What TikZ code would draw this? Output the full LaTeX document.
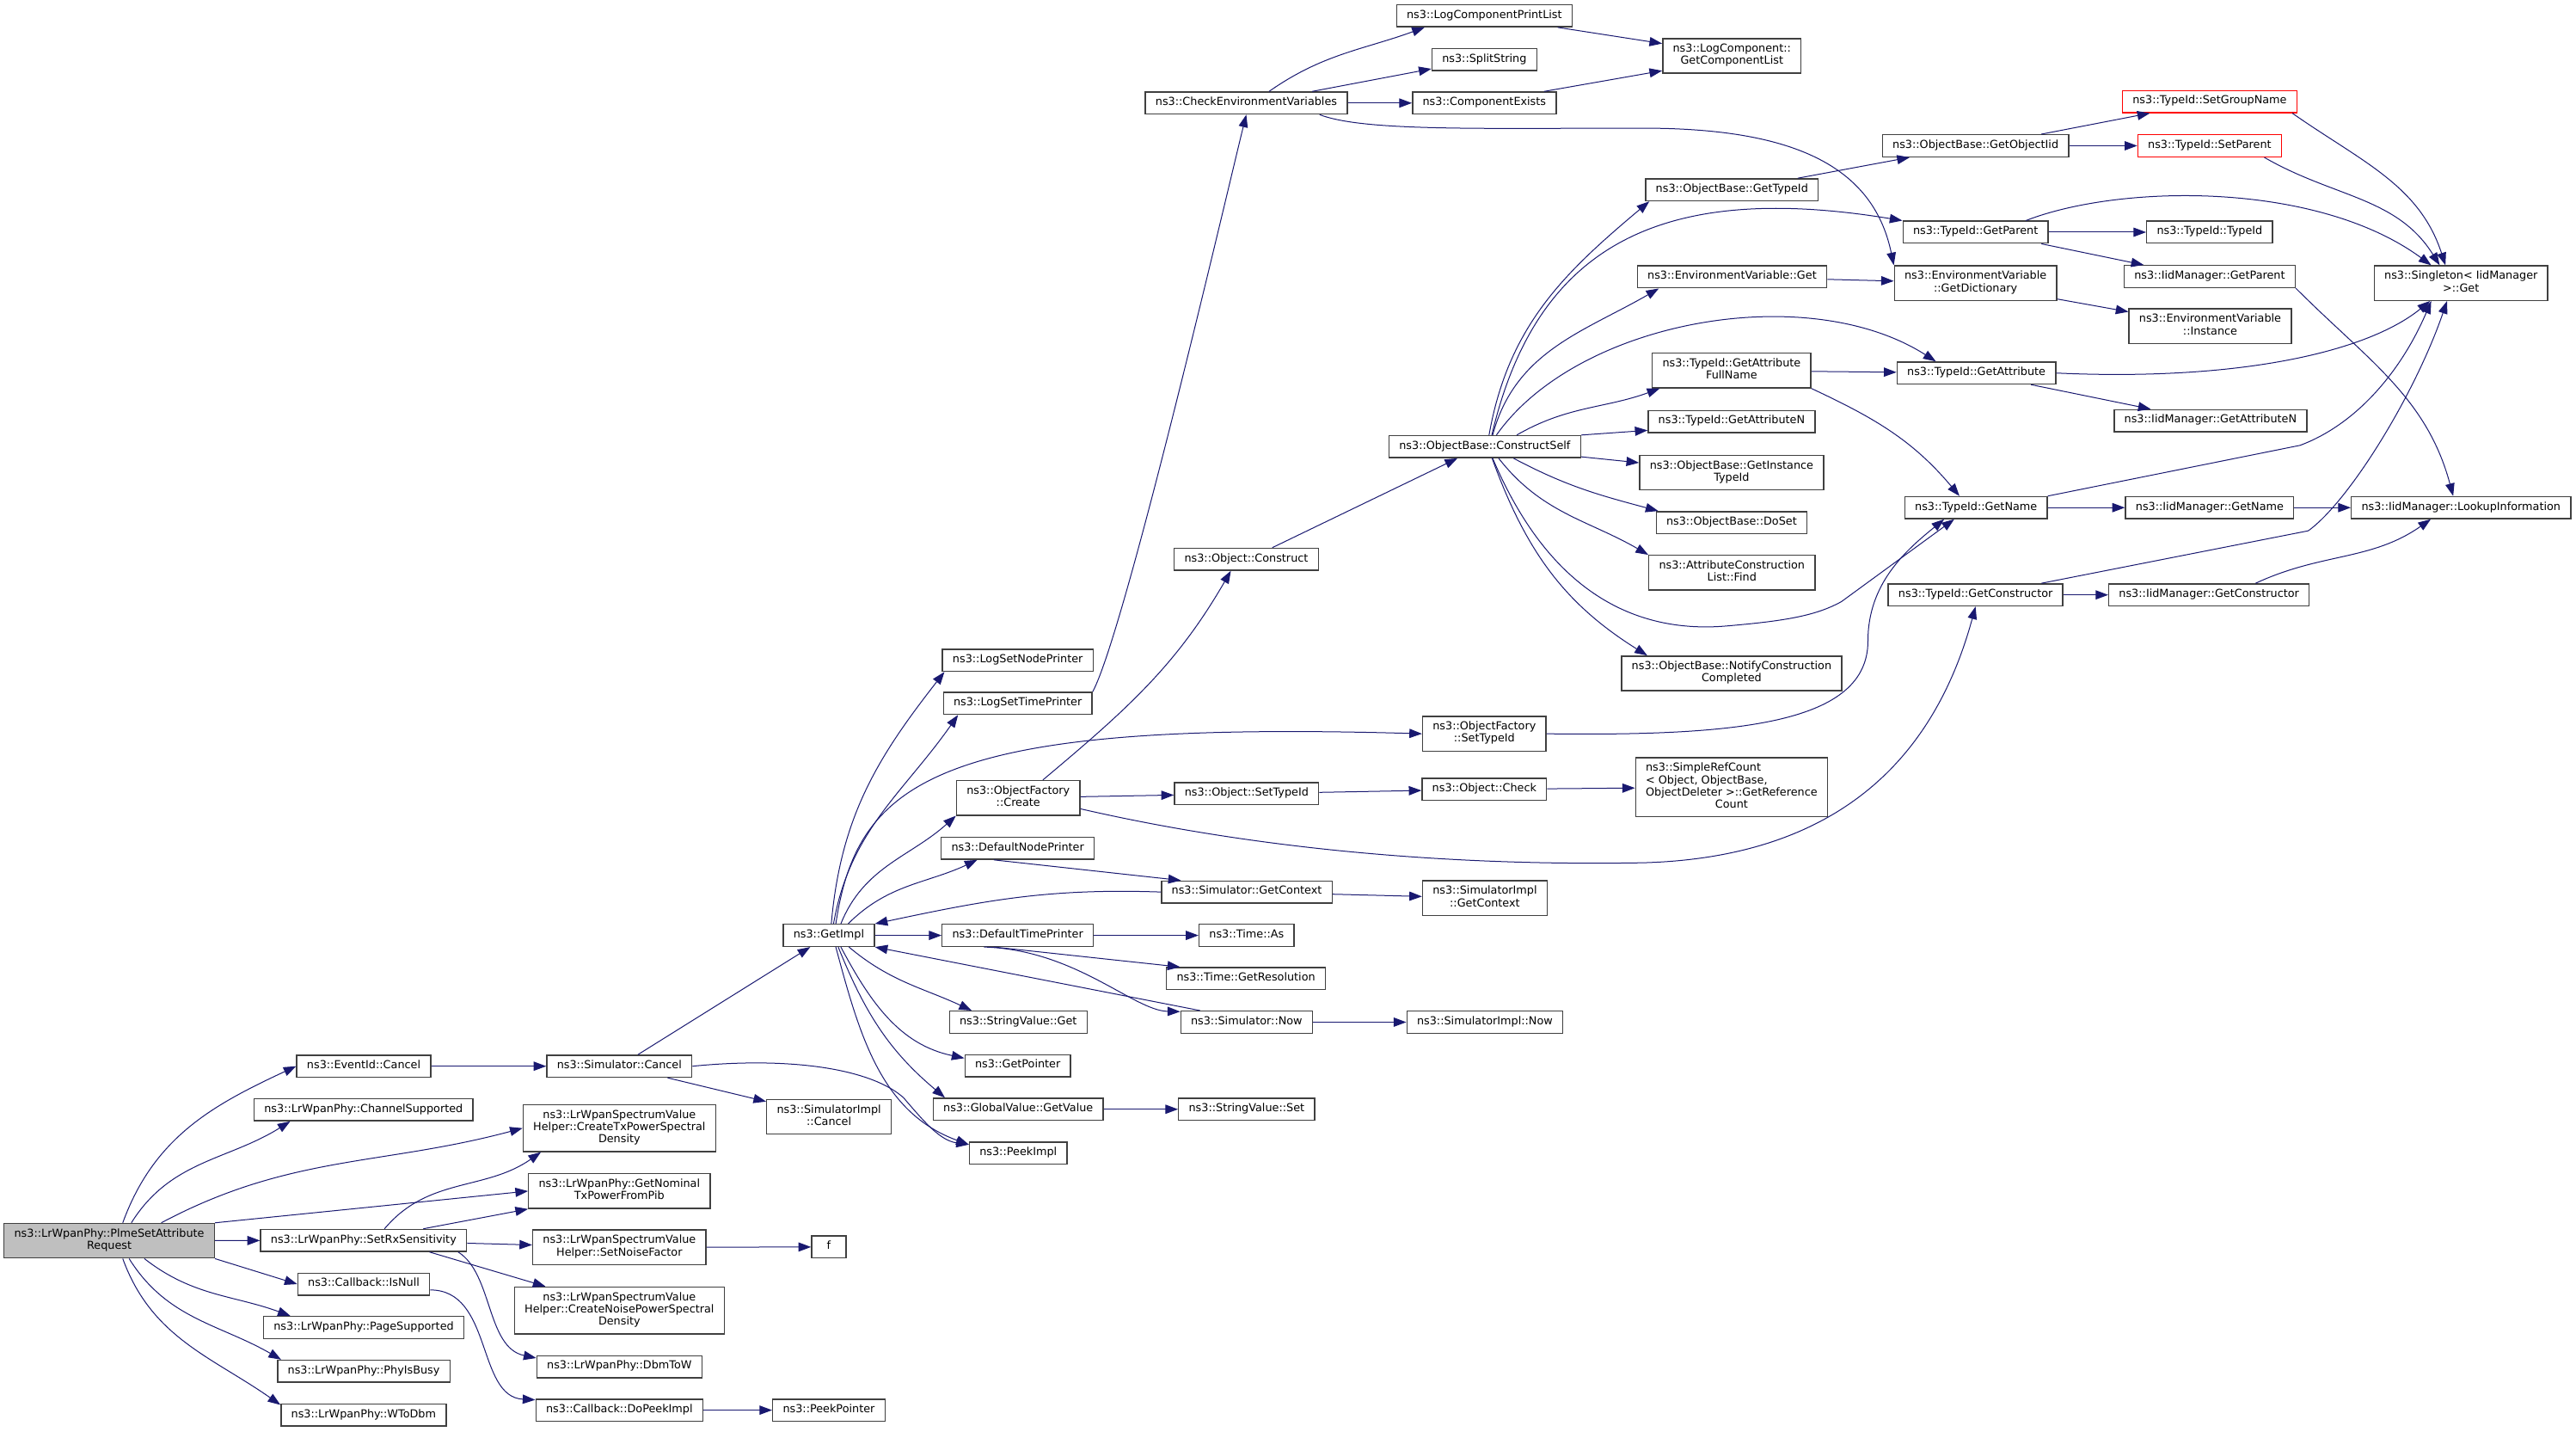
\documentclass[tikz,border=0pt]{standalone}
\usepackage{fontspec}
\setmainfont{DejaVu Sans}
\usepackage{tikz}
\usetikzlibrary{arrows.meta}
\definecolor{callblue}{HTML}{191970}

\begin{document}
\begin{tikzpicture}[x=1.433pt, y=-1.433pt,
    >={Triangle[length=11pt,width=8pt]},
    fn/.style={draw=black!75, line width=1.05pt, fill=white, align=center,
      inner xsep=8.85pt, inner ysep=1pt, minimum height=19.2pt,
      font=\fontsize{9.6}{10.6}\selectfont,
      execute at begin node=\strut, execute at end node=\strut},
    fn2/.style={fn, minimum height=30.2pt},
    fn3/.style={fn, minimum height=40.8pt},
    fn4/.style={fn, minimum height=51.5pt},
    root/.style={fill=black!25},
    cut/.style={draw=red},
    call/.style={->, draw=callblue, line width=0.75pt}]
  \useasboundingbox (0,0) rectangle (1568,870.9);

  % Caller and its direct calls
  \node[fn2, root] (plme) at (66.5,755) {ns3::LrWpanPhy::PlmeSetAttribute\\Request};
  \node[fn] (eventCancel) at (221.4,648.8) {ns3::EventId::Cancel};
  \node[fn] (channelSup) at (221.3,675.3) {ns3::LrWpanPhy::ChannelSupported};
  \node[fn] (setRx) at (221.3,754.8) {ns3::LrWpanPhy::SetRxSensitivity};
  \node[fn] (isNull) at (221.4,781.4) {ns3::Callback::IsNull};
  \node[fn] (pageSup) at (221.4,807.8) {ns3::LrWpanPhy::PageSupported};
  \node[fn] (phyBusy) at (221.4,834.4) {ns3::LrWpanPhy::PhyIsBusy};
  \node[fn] (wToDbm) at (221.3,861.1) {ns3::LrWpanPhy::WToDbm};

  \node[fn] (simCancel) at (377,648.8) {ns3::Simulator::Cancel};
  \node[fn3] (createTx) at (377,686.5) {ns3::LrWpanSpectrumValue\\Helper::CreateTxPowerSpectral\\Density};
  \node[fn2] (getNominal) at (377,724.8) {ns3::LrWpanPhy::GetNominal\\TxPowerFromPib};
  \node[fn2] (setNoise) at (377,759) {ns3::LrWpanSpectrumValue\\Helper::SetNoiseFactor};
  \node[fn3] (createNoise) at (377,797.4) {ns3::LrWpanSpectrumValue\\Helper::CreateNoisePowerSpectral\\Density};
  \node[fn] (dbmToW) at (377,831.7) {ns3::LrWpanPhy::DbmToW};
  \node[fn] (doPeek) at (377,858.1) {ns3::Callback::DoPeekImpl};

  \node[fn] (getImpl) at (504.5,569.2) {ns3::GetImpl};
  \node[fn2] (simImplCancel) at (504.6,679.5) {ns3::SimulatorImpl\\::Cancel};
  \node[fn, minimum width=30pt] (f) at (504.5,758.8) {f};
  \node[fn] (peekPointer) at (504.5,858.1) {ns3::PeekPointer};

  % GetImpl column
  \node[fn] (logSetNode) at (619.5,401.8) {ns3::LogSetNodePrinter};
  \node[fn] (logSetTime) at (619.5,428) {ns3::LogSetTimePrinter};
  \node[fn2] (ofCreate) at (619.8,485.5) {ns3::ObjectFactory\\::Create};
  \node[fn] (defNode) at (619.5,516.2) {ns3::DefaultNodePrinter};
  \node[fn] (defTime) at (619.5,569.2) {ns3::DefaultTimePrinter};
  \node[fn] (strGet) at (619.8,622) {ns3::StringValue::Get};
  \node[fn] (getPointer) at (619.5,648.5) {ns3::GetPointer};
  \node[fn] (gvGetValue) at (619.8,675) {ns3::GlobalValue::GetValue};
  \node[fn] (peekImpl) at (619.8,701.8) {ns3::PeekImpl};

  \node[fn] (checkEnv) at (758.6,62.7) {ns3::CheckEnvironmentVariables};
  \node[fn] (objConstruct) at (758.6,340.3) {ns3::Object::Construct};
  \node[fn] (objSetTypeId) at (758.8,483) {ns3::Object::SetTypeId};
  \node[fn] (simGetContext) at (758.9,542.8) {ns3::Simulator::GetContext};
  \node[fn] (timeAs) at (758.8,569.2) {ns3::Time::As};
  \node[fn] (timeRes) at (758.4,595.5) {ns3::Time::GetResolution};
  \node[fn] (simNow) at (758.8,622) {ns3::Simulator::Now};
  \node[fn] (strSet) at (758.8,675) {ns3::StringValue::Set};

  \node[fn] (logPrintList) at (903.5,9.6) {ns3::LogComponentPrintList};
  \node[fn] (splitString) at (903.5,36.2) {ns3::SplitString};
  \node[fn] (compExists) at (903.5,62.7) {ns3::ComponentExists};
  \node[fn] (constructSelf) at (903.8,271.8) {ns3::ObjectBase::ConstructSelf};
  \node[fn2] (ofSetTypeId) at (903.5,446.5) {ns3::ObjectFactory\\::SetTypeId};
  \node[fn] (objCheck) at (903.5,480.3) {ns3::Object::Check};
  \node[fn2] (simImplGetContext) at (903.8,546.5) {ns3::SimulatorImpl\\::GetContext};
  \node[fn] (simImplNow) at (903.8,622) {ns3::SimulatorImpl::Now};

  % ObjectBase and TypeId helpers
  \node[fn2] (getCompList) at (1054.2,34) {ns3::LogComponent::\\GetComponentList};
  \node[fn] (obGetTypeId) at (1054.2,115.5) {ns3::ObjectBase::GetTypeId};
  \node[fn] (envGet) at (1054.3,168.5) {ns3::EnvironmentVariable::Get};
  \node[fn2] (getAttrFull) at (1054,225.5) {ns3::TypeId::GetAttribute\\FullName};
  \node[fn] (getAttrN) at (1054,256.5) {ns3::TypeId::GetAttributeN};
  \node[fn2] (getInstTypeId) at (1054,287.5) {ns3::ObjectBase::GetInstance\\TypeId};
  \node[fn] (doSet) at (1054,318) {ns3::ObjectBase::DoSet};
  \node[fn2] (acListFind) at (1054.2,348.5) {ns3::AttributeConstruction\\List::Find};
  \node[fn2] (notifyCC) at (1054,409.8) {ns3::ObjectBase::NotifyConstruction\\Completed};
  \node[fn4] (simpleRefCount) at (1054,479) {\begin{tabular}{@{}c@{}}
      \multicolumn{1}{@{}l}{ns3::SimpleRefCount}\\
      \multicolumn{1}{@{}l}{< Object, ObjectBase,}\\
      ObjectDeleter >::GetReference\\
      Count\end{tabular}};

  \node[fn] (getObjectIid) at (1202.5,88.7) {ns3::ObjectBase::GetObjectIid};
  \node[fn] (tidGetParent) at (1202.5,141.3) {ns3::TypeId::GetParent};
  \node[fn2] (getDict) at (1202.5,172.3) {ns3::EnvironmentVariable\\::GetDictionary};
  \node[fn] (tidGetAttr) at (1203,227) {ns3::TypeId::GetAttribute};
  \node[fn] (tidGetName) at (1202.8,308.9) {ns3::TypeId::GetName};
  \node[fn] (tidGetCtor) at (1202.5,362) {ns3::TypeId::GetConstructor};

  \node[fn, cut] (setGroupName) at (1345,61.8) {ns3::TypeId::SetGroupName};
  \node[fn, cut] (setParent) at (1345,88.7) {ns3::TypeId::SetParent};
  \node[fn] (tidTypeId) at (1345,141.3) {ns3::TypeId::TypeId};
  \node[fn] (iidGetParent) at (1345,168.3) {ns3::IidManager::GetParent};
  \node[fn2] (envInstance) at (1345.3,198.5) {ns3::EnvironmentVariable\\::Instance};
  \node[fn] (iidGetAttrN) at (1345.5,256) {ns3::IidManager::GetAttributeN};
  \node[fn] (iidGetName) at (1345,308.9) {ns3::IidManager::GetName};
  \node[fn] (iidGetCtor) at (1344.6,362) {ns3::IidManager::GetConstructor};

  \node[fn2] (singletonGet) at (1498,172.3) {ns3::Singleton< IidManager\\ >::Get};
  \node[fn] (lookupInfo) at (1498,308.9) {ns3::IidManager::LookupInformation};

  % Calls of the caller
  \draw[call] (plme.53) to[out=70,in=205] (eventCancel.west);
  \draw[call] (plme.39) to[out=58,in=212] (channelSup.-171);
  \draw[call] (plme.19) to[out=28,in=195] (createTx.west);
  \draw[call] (plme.north east) -- (getNominal.west);
  \draw[call] (plme) -- (setRx);
  \draw[call] (plme.south east) -- (isNull.west);
  \draw[call] (plme.-27) to[out=-38,in=160] (pageSup.171);
  \draw[call] (plme.-42) to[out=-58,in=150] (phyBusy.172);
  \draw[call] (plme.-53) to[out=-70,in=145] (wToDbm.173);

  \draw[call] (eventCancel) -- (simCancel);
  \draw[call] (simCancel) -- (getImpl);
  \draw[call] (simCancel) -- (simImplCancel);
  \draw[call] (simCancel.east) .. controls (480,643) and (530,650) .. (550,668)
    .. controls (562,682) and (572,694) .. (peekImpl.170);
  \draw[call] (setRx.29) to[out=50,in=215] (createTx.-163);
  \draw[call] (setRx.11) -- (getNominal.south west);
  \draw[call] (setRx) -- (setNoise);
  \draw[call] (setRx.-10) -- (createNoise.162);
  \draw[call] (setRx.-7) .. controls (300,775) and (296,820) .. (dbmToW.174);
  \draw[call] (setNoise) -- (f);
  \draw[call] (isNull.-5) .. controls (300,785) and (290,850) .. (doPeek.173);
  \draw[call] (doPeek) -- (peekPointer);

  % Calls of GetImpl
  \draw[call] (getImpl.78) to[out=85,in=232] (logSetNode.-171);
  \draw[call] (getImpl.68) to[out=80,in=235] (logSetTime.-169);
  \draw[call] (getImpl.59) .. controls (522,475) and (570,438) .. (ofSetTypeId.west);
  \draw[call] (getImpl.44) to[out=68,in=222] (ofCreate.south west);
  \draw[call] (getImpl.31) to[out=45,in=205] (defNode.-164);
  \draw[call] (getImpl) -- (defTime);
  \draw[call] (getImpl.-30) to[out=-40,in=155] (strGet.166);
  \draw[call] (getImpl.-44) to[out=-62,in=168] (getPointer.172);
  \draw[call] (getImpl.-51) to[out=-68,in=140] (gvGetValue.171);
  \draw[call] (getImpl.-59) to[out=-75,in=160] (peekImpl.170);

  \draw[call] (logSetTime.north east) to[out=62,in=-104,looseness=0.3] (checkEnv.south);
  \draw[call] (ofCreate.36) to[out=40,in=-120] (objConstruct.-143);
  \draw[call] (ofCreate) -- (objSetTypeId);
  \draw[call] (ofCreate.-10) .. controls (770,518) and (890,527) .. (1000,525)
    .. controls (1110,522) and (1175,470) .. (tidGetCtor.south);
  \draw[call] (defNode.-154) -- (simGetContext.170);
  \draw[call] (simGetContext.west) to[out=178,in=12] (getImpl.north east);
  \draw[call] (simGetContext) -- (simImplGetContext);
  \draw[call] (defTime) -- (timeAs);
  \draw[call] (defTime.-154) -- (timeRes.170);
  \draw[call] (defTime.-161) .. controls (655,578) and (690,615) .. (simNow.171);
  \draw[call] (simNow.166) -- (getImpl.south east);
  \draw[call] (simNow) -- (simImplNow);
  \draw[call] (gvGetValue) -- (strSet);
  \draw[call] (objSetTypeId) -- (objCheck);
  \draw[call] (objCheck) -- (simpleRefCount);
  \draw[call] (ofSetTypeId.east) .. controls (1060,448) and (1137,440) .. (1137,390)
    .. controls (1137,355) and (1160,335) .. (tidGetName.-160);
  \draw[call] (objConstruct.24) -- (constructSelf.-157);

  % CheckEnvironmentVariables
  \draw[call] (checkEnv.27) to[out=35,in=200] (logPrintList.-169);
  \draw[call] (checkEnv.10) -- (splitString.-170);
  \draw[call] (checkEnv) -- (compExists);
  \draw[call] (checkEnv.-9) .. controls (830,80) and (900,78) .. (1000,78)
    .. controls (1090,78) and (1140,100) .. (getDict.north west);
  \draw[call] (logPrintList.-9) -- (getCompList.170);
  \draw[call] (compExists.11) -- (getCompList.-168);

  % ConstructSelf
  \draw[call] (constructSelf.70) to[out=80,in=220] (obGetTypeId.-172);
  \draw[call] (constructSelf.59) .. controls (935,150) and (1010,110) .. (tidGetParent.north west);
  \draw[call] (constructSelf.56) to[out=75,in=210] (envGet.-171);
  \draw[call] (constructSelf.45) .. controls (960,195) and (1100,170) .. (tidGetAttr.164);
  \draw[call] (constructSelf.20) to[out=30,in=200] (getAttrFull.-166);
  \draw[call] (constructSelf.north east) -- (getAttrN.-174);
  \draw[call] (constructSelf.-6) -- (getInstTypeId.174);
  \draw[call] (constructSelf.-22) to[out=-28,in=165] (doSet.171);
  \draw[call] (constructSelf.-40) to[out=-52,in=150] (acListFind.north west);
  \draw[call] (constructSelf.-58) to[out=-70,in=148] (notifyCC.168);
  \draw[call] (constructSelf.-56) .. controls (945,365) and (1000,385) .. (1050,381)
    .. controls (1085,378) and (1105,375) .. (1121,366) -- (tidGetName.-152);

  % TypeId and IidManager
  \draw[call] (obGetTypeId.10) -- (getObjectIid.-170);
  \draw[call] (getObjectIid.10) -- (setGroupName.-169);
  \draw[call] (getObjectIid) -- (setParent);
  \draw[call] (envGet) -- (getDict);
  \draw[call] (getAttrFull) -- (tidGetAttr);
  \draw[call] (getAttrFull.south east) to[out=-25,in=130] (tidGetName.145);
  \draw[call] (tidGetParent) -- (tidTypeId);
  \draw[call] (tidGetParent.-10) -- (iidGetParent.170);
  \draw[call] (tidGetParent.13) .. controls (1290,112) and (1410,110) .. (singletonGet.149);
  \draw[call] (getDict.-11) -- (envInstance.170);
  \draw[call] (tidGetAttr.east) .. controls (1360,232) and (1440,215) .. (singletonGet.-150);
  \draw[call] (tidGetAttr.-12) -- (iidGetAttrN.169);
  \draw[call] (tidGetName) -- (iidGetName);
  \draw[call] (tidGetName.north east) -- (1400,271) .. controls (1435,258) and (1462,225) .. (singletonGet.-149);
  \draw[call] (tidGetCtor) -- (iidGetCtor);
  \draw[call] (tidGetCtor.10) -- (1405,323) .. controls (1430,305) and (1470,240) .. (singletonGet.-128);
  \draw[call] (setGroupName.-8) to[out=-35,in=108] (singletonGet.131);
  \draw[call] (setParent.-12) to[out=-30,in=122] (singletonGet.140);
  \draw[call] (iidGetName) -- (lookupInfo);
  \draw[call] (iidGetParent.south east) to[out=-45,in=105] (lookupInfo.124);
  \draw[call] (iidGetCtor.14) to[out=25,in=-145] (lookupInfo.-159);
\end{tikzpicture}
\end{document}
